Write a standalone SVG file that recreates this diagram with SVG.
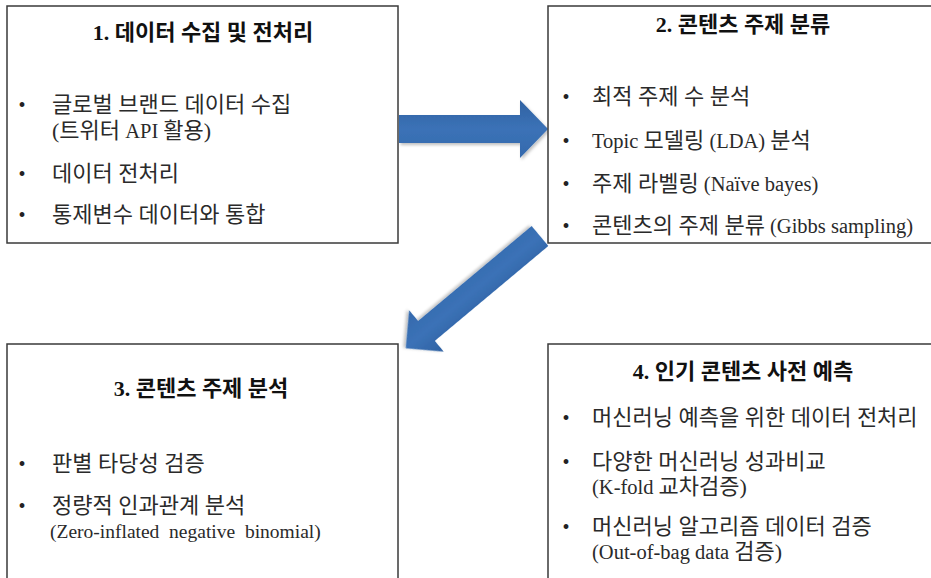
<svg xmlns="http://www.w3.org/2000/svg" width="931" height="578" viewBox="0 0 931 578">
<style>
.box{fill:#fff;stroke:#3a3a3a;stroke-width:1.5}
.t{font-family:"Liberation Serif","Noto Sans CJK KR",serif;font-size:22px;font-weight:bold;fill:#111;text-anchor:middle}
.i{font-family:"Liberation Serif","Noto Sans CJK KR",serif;font-size:20.5px;fill:#2a2a2a}
.k{font-size:22px}
.z{font-size:19.5px}
.b{font-family:"Liberation Serif",serif;font-size:20px;fill:#222;text-anchor:middle}
.arr{fill:url(#g);filter:url(#sh)}
</style>
<defs>
<linearGradient id="g" x1="0" y1="0" x2="0" y2="1">
<stop offset="0" stop-color="#3062a2"/>
<stop offset="0.5" stop-color="#3b72b7"/>
<stop offset="1" stop-color="#3469ac"/>
</linearGradient>
<filter id="sh" x="-20%" y="-20%" width="140%" height="140%">
<feDropShadow dx="1.5" dy="2" stdDeviation="1.5" flood-color="#000" flood-opacity="0.25"/>
</filter>
</defs>
<g id="connectors">
<path class="arr" d="M399,115 L520,115 L520,100 L548,129 L520,158 L520,143 L399,143 Z"/>
<g transform="translate(540,236) rotate(140.1)">
<path class="arr" d="M0,-13 L148,-13 L148,-27 L175,0 L148,27 L148,13 L0,13 Z"/>
</g>
</g>
<g id="node1">
<rect class="box" x="7" y="6" width="391" height="237"/>
<text class="t" x="203" y="40">1. 데이터 수집 및 전처리</text>
<text class="b" x="22" y="112">•</text>
<text class="i k" x="52" y="112">글로벌 브랜드 데이터 수집</text>
<text class="i" x="52" y="138"><tspan class="k">(트위터</tspan> API <tspan class="k">활용)</tspan></text>
<text class="b" x="22" y="181">•</text>
<text class="i k" x="52" y="181">데이터 전처리</text>
<text class="b" x="22" y="222">•</text>
<text class="i k" x="52" y="222">통제변수 데이터와 통합</text>
</g>
<g id="node2">
<rect class="box" x="548" y="6" width="392" height="237"/>
<text class="t" x="743" y="32">2. 콘텐츠 주제 분류</text>
<text class="b" x="566" y="104">•</text>
<text class="i k" x="592" y="104">최적 주제 수 분석</text>
<text class="b" x="566" y="148">•</text>
<text class="i" x="592" y="148">Topic <tspan class="k">모델링</tspan> (LDA) <tspan class="k">분석</tspan></text>
<text class="b" x="566" y="191">•</text>
<text class="i" x="592" y="191"><tspan class="k">주제 라벨링</tspan> (Naïve bayes)</text>
<text class="b" x="566" y="233">•</text>
<text class="i" x="592" y="233"><tspan class="k">콘텐츠의 주제 분류</tspan> (Gibbs sampling)</text>
</g>
<g id="node3">
<rect class="box" x="7" y="344" width="391" height="240"/>
<text class="t" x="201" y="396">3. 콘텐츠 주제 분석</text>
<text class="b" x="22" y="471">•</text>
<text class="i k" x="52" y="471">판별 타당성 검증</text>
<text class="b" x="22" y="513">•</text>
<text class="i k" x="52" y="513">정량적 인과관계 분석</text>
<text class="i z" x="50" y="538" xml:space="preserve">(Zero-inflated  negative  binomial)</text>
</g>
<g id="node4">
<rect class="box" x="548" y="344" width="392" height="240"/>
<text class="t" x="743" y="379">4. 인기 콘텐츠 사전 예측</text>
<text class="b" x="566" y="425">•</text>
<text class="i k" x="592" y="425">머신러닝 예측을 위한 데이터 전처리</text>
<text class="b" x="566" y="469">•</text>
<text class="i k" x="592" y="469">다양한 머신러닝 성과비교</text>
<text class="i" x="592" y="494">(K-fold <tspan class="k">교차검증)</tspan></text>
<text class="b" x="566" y="534">•</text>
<text class="i k" x="592" y="534">머신러닝 알고리즘 데이터 검증</text>
<text class="i" x="592" y="559">(Out-of-bag data <tspan class="k">검증)</tspan></text>
</g>
</svg>
